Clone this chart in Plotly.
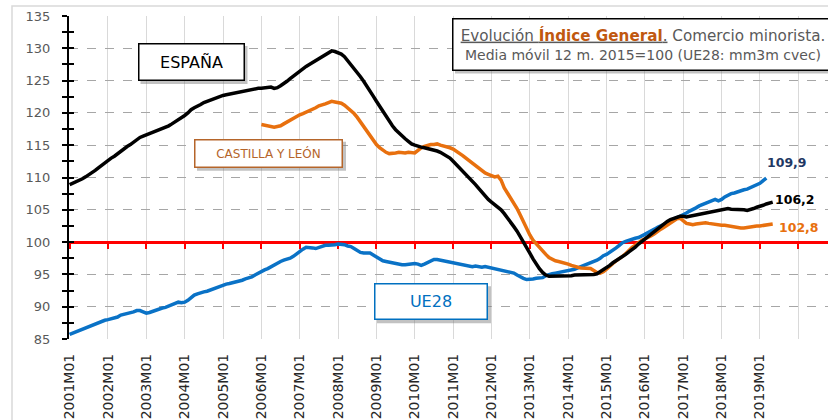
import plotly.graph_objects as go

# ---------------- data ----------------
year_labels = [f"{y}M01" for y in range(2001, 2020)]

espana = [
    108.9, 109.1, 109.4, 109.6, 109.8, 110.1, 110.4, 110.7, 111.1, 111.5, 111.9, 112.3,  # 2001
    112.6, 113.0, 113.3, 113.7, 114.0, 114.4, 114.8, 115.1, 115.5, 115.9, 116.2, 116.4,  # 2002
    116.6, 116.8, 116.9, 117.1, 117.3, 117.5, 117.8, 118.0, 118.3, 118.6, 118.9, 119.2,  # 2003
    119.6, 120.0, 120.5, 120.8, 121.0, 121.3, 121.6, 121.8, 122.0, 122.2, 122.4, 122.6,  # 2004
    122.7, 122.8, 122.9, 123.1, 123.2, 123.3, 123.4, 123.5, 123.6, 123.7, 123.7, 123.8,  # 2005
    123.8, 123.9, 123.9, 124.0, 123.8, 123.9, 124.2, 124.5, 124.9, 125.3, 125.7, 126.1,  # 2006
    126.4, 126.8, 127.2, 127.5, 127.8, 128.1, 128.4, 128.7, 129.0, 129.3, 129.6, 129.5,  # 2007
    129.3, 129.1, 128.7, 128.1, 127.6, 127.0, 126.3, 125.6, 124.9, 124.2, 123.4, 122.6,  # 2008
    121.8, 121.0, 120.2, 119.5, 118.7, 118.0, 117.4, 116.9, 116.4, 116.0, 115.6, 115.2,  # 2009
    115.0, 114.8, 114.7, 114.6, 114.5, 114.4, 114.3, 114.1, 113.9, 113.6, 113.3, 113.0,  # 2010
    112.5, 112.0, 111.4, 110.9, 110.4, 109.9, 109.4, 108.9, 108.3, 107.7, 107.1, 106.6,  # 2011
    106.2, 105.8, 105.4, 105.0, 104.4, 103.8, 103.1, 102.4, 101.7, 100.9, 100.0, 99.2,   # 2012
    98.3, 97.4, 96.6, 95.9, 95.3, 94.9, 94.7, 94.7, 94.7, 94.8, 94.8, 94.8,              # 2013
    94.8, 94.8, 94.9, 94.9, 94.9, 95.0, 95.0, 95.0, 95.0, 95.1, 95.4, 95.7,              # 2014
    96.0, 96.4, 96.8, 97.1, 97.4, 97.8, 98.1, 98.5, 98.8, 99.2, 99.7, 100.1,             # 2015
    100.5, 100.9, 101.3, 101.7, 102.1, 102.5, 102.9, 103.2, 103.5, 103.7, 103.9, 104.0,  # 2016
    104.0, 103.9, 104.0, 104.1, 104.3, 104.4, 104.4, 104.5, 104.6, 104.8, 104.9, 105.0,  # 2017
    105.1, 105.1, 105.2, 105.1, 105.1, 105.0, 105.1, 105.0, 104.9, 105.0, 105.2, 105.4,  # 2018
    105.5, 105.7, 105.9, 106.0, 106.2,                                                   # 2019
]

# Castilla y León starts in 2006M01 (month index 60)
cyl_start = 60
castilla = [
    118.2, 118.1, 118.0, 117.9, 117.8, 117.9, 118.0, 118.3, 118.6, 118.9, 119.2, 119.4,  # 2006
    119.7, 119.9, 120.1, 120.3, 120.5, 120.8, 121.1, 121.2, 121.4, 121.6, 121.8, 121.7,  # 2007
    121.6, 121.5, 121.2, 120.8, 120.4, 119.9, 119.3, 118.6, 117.9, 117.2, 116.4, 115.8,  # 2008
    115.1, 114.6, 114.2, 113.9, 113.7, 113.7, 113.8, 113.9, 113.8, 113.8, 113.9, 113.9,  # 2009
    113.8, 114.2, 114.6, 114.8, 115.0, 115.1, 115.1, 115.2, 115.0, 114.9, 114.8, 114.6,  # 2010
    114.4, 114.1, 113.8, 113.4, 113.0, 112.6, 112.2, 111.8, 111.5, 111.0, 110.7, 110.5,  # 2011
    110.3, 110.1, 110.2, 109.6, 108.4, 107.6, 106.9, 106.1, 105.2, 104.2, 103.1, 102.1,  # 2012
    101.1, 100.3, 99.7, 99.1, 98.6, 98.1, 97.6, 97.3, 97.1, 97.0, 96.9, 96.8,            # 2013
    96.6, 96.4, 96.2, 96.1, 96.0, 96.0, 96.0, 95.9, 95.6, 95.3, 95.2, 95.4,              # 2014
    95.8, 96.3, 96.7, 97.1, 97.4, 97.8, 98.2, 98.7, 99.2, 99.5, 99.9, 100.3,             # 2015
    100.5, 100.7, 101.0, 101.3, 101.7, 102.0, 102.3, 102.6, 102.9, 103.3, 103.6, 103.7,  # 2016
    103.3, 102.9, 102.8, 102.7, 102.8, 102.9, 102.9, 103.0, 102.9, 102.8, 102.8, 102.7,  # 2017
    102.6, 102.6, 102.5, 102.5, 102.4, 102.2, 102.2, 102.2, 102.3, 102.4, 102.4, 102.5,  # 2018
    102.5, 102.6, 102.6, 102.7, 102.8,                                                   # 2019
]

ue28 = [
    85.7, 85.9, 86.2, 86.4, 86.6, 86.8, 87.0, 87.2, 87.3, 87.5, 87.7, 87.9,    # 2001
    88.0, 88.1, 88.2, 88.4, 88.7, 88.8, 88.9, 89.0, 89.2, 89.4, 89.4, 89.2,    # 2002
    89.0, 89.1, 89.3, 89.5, 89.7, 89.8, 89.9, 90.1, 90.4, 90.6, 90.7, 90.6,    # 2003
    90.7, 91.0, 91.4, 91.8, 92.0, 92.2, 92.3, 92.4, 92.6, 92.8, 93.0, 93.2,    # 2004
    93.4, 93.5, 93.6, 93.7, 93.8, 93.9, 94.1, 94.3, 94.4, 94.6, 94.9, 95.2,    # 2005
    95.5, 95.7, 95.9, 96.2, 96.4, 96.7, 97.0, 97.2, 97.3, 97.5, 97.8, 98.2,    # 2006
    98.6, 98.9, 99.2, 99.2, 99.1, 99.0, 99.2, 99.4, 99.5, 99.5, 99.5, 99.6,    # 2007
    99.7, 99.7, 99.6, 99.4, 99.3, 99.0, 98.7, 98.4, 98.3, 98.3, 98.3, 98.0,    # 2008
    97.7, 97.4, 97.1, 97.0, 96.9, 96.8, 96.6, 96.5, 96.5, 96.5, 96.6, 96.6,    # 2009
    96.7, 96.6, 96.4, 96.6, 96.8, 97.0, 97.3, 97.3, 97.2, 97.1, 97.0, 96.9,    # 2010
    96.8, 96.7, 96.6, 96.5, 96.4, 96.3, 96.2, 96.3, 96.2, 96.1, 96.2, 96.1,    # 2011
    96.0, 95.9, 95.8, 95.7, 95.6, 95.5, 95.3, 95.2, 94.9, 94.6, 94.4, 94.2,    # 2012
    94.2, 94.3, 94.4, 94.4, 94.5, 94.8, 95.0, 95.1, 95.2, 95.3, 95.4, 95.5,    # 2013
    95.5, 95.7, 95.8, 96.0, 96.2, 96.4, 96.6, 96.8, 96.9, 97.2, 97.5, 97.9,    # 2014
    98.1, 98.4, 98.7, 99.1, 99.5, 99.9, 100.1, 100.3, 100.5, 100.6, 100.7, 100.9,  # 2015
    101.2, 101.5, 101.7, 102.0, 102.3, 102.5, 102.8, 103.0, 103.3, 103.6, 103.8, 104.0,  # 2016
    104.2, 104.5, 104.8, 105.0, 105.3, 105.6, 105.8, 106.0, 106.3, 106.5, 106.6, 106.4,  # 2017
    106.6, 107.0, 107.3, 107.5, 107.6, 107.8, 108.0, 108.1, 108.2, 108.4, 108.6, 108.9,  # 2018
    109.1, 109.5, 109.9,                                                        # 2019
]

last_labels = {"ue28": "109,9", "espana": "106,2", "castilla": "102,8"}

# ---------------- derived x positions (month index) ----------------
x_es = list(range(len(espana)))
x_cyl = list(range(cyl_start, cyl_start + len(castilla)))
x_ue = list(range(len(ue28)))
tick_pos = [12 * i for i in range(len(year_labels) + 1)]
tick_txt = year_labels + [""]

BLACK = "#000000"
ORANGE = "#E8700E"
BLUE = "#0A72C6"
FONT = "DejaVu Sans"

fig = go.Figure()

# invisible helper traces so overlay axes are drawn
fig.add_trace(go.Scatter(x=x_es, y=espana, xaxis="x2", yaxis="y", mode="lines",
                         line=dict(color="rgba(0,0,0,0)"), hoverinfo="skip", showlegend=False))
fig.add_trace(go.Scatter(x=x_es, y=espana, xaxis="x", yaxis="y2", mode="lines",
                         line=dict(color="rgba(0,0,0,0)"), hoverinfo="skip", showlegend=False))

fig.add_trace(go.Scatter(x=x_ue, y=ue28, mode="lines", name="UE28",
                         line=dict(color=BLUE, width=3.5), showlegend=False))
fig.add_trace(go.Scatter(x=x_cyl, y=castilla, mode="lines", name="CASTILLA Y LEÓN",
                         line=dict(color=ORANGE, width=3.5), showlegend=False))
fig.add_trace(go.Scatter(x=x_es, y=espana, mode="lines", name="ESPAÑA",
                         line=dict(color=BLACK, width=3.5), showlegend=False))

xr = [-0.2, 237.3]
fig.update_layout(
    width=828, height=420,
    margin=dict(l=69, r=0, t=16, b=81, autoexpand=False),
    paper_bgcolor="white", plot_bgcolor="white",
    font=dict(family=FONT),
    xaxis=dict(range=xr, tickvals=tick_pos, ticktext=tick_txt, tickangle=-90, automargin=False,
               showgrid=True, gridcolor="#D9D9D9", gridwidth=1, zeroline=False,
               showline=False, ticks="", ticklabelstandoff=11,
               tickfont=dict(family=FONT, size=14, color="#262626")),
    xaxis2=dict(range=xr, overlaying="x", anchor="free", position=0.3, side="bottom",
                automargin=False,
                tickvals=tick_pos, showticklabels=False, showgrid=False, zeroline=False,
                showline=True, linecolor="#FF0000", linewidth=2.5, layer="below traces",
                ticks="outside", ticklen=5, tickwidth=2, tickcolor="#FF0000"),
    yaxis=dict(range=[85, 135], tick0=85, dtick=5, showgrid=True, gridcolor="#A6A6A6",
               griddash="dash", gridwidth=1, zeroline=False, showline=True, automargin=False,
               linecolor="black", linewidth=2, ticks="outside", ticklen=5, tickwidth=1.5,
               tickcolor="black", ticklabelstandoff=9,
               minor=dict(dtick=2.5, ticks="outside", ticklen=5, tickwidth=1.5,
                          tickcolor="black", showgrid=False),
               tickfont=dict(family=FONT, size=13, color="#595959")),
    yaxis2=dict(range=[85, 135], overlaying="y", anchor="x", side="left", tick0=85,
                automargin=False,
                dtick=2.5, ticks="inside", ticklen=5, tickwidth=1.5, tickcolor="black",
                showticklabels=False, showgrid=False, zeroline=False, showline=False),
)

PW, PH, L, T = 759.0, 323.0, 69.0, 16.0


def px2paper(px, py):
    return (px - L) / PW, (T + PH - py) / PH


shapes = []
# outer frame
fx0, fy0 = px2paper(12, 6)
fx1, fy1 = px2paper(840, 430)
shapes.append(dict(type="rect", xref="paper", yref="paper", x0=fx0, y0=fy1, x1=fx1, y1=fy0,
                   line=dict(color="#D9D9D9", width=1.5), layer="below"))


def box(cx, cy, w, h, text, color, border, size):
    # shadow
    sx0, sy0 = px2paper(cx - w / 2 + 3, cy - h / 2 + 3)
    sx1, sy1 = px2paper(cx + w / 2 + 3, cy + h / 2 + 3)
    shapes.append(dict(type="rect", xref="paper", yref="paper", x0=sx0, x1=sx1, y0=sy1, y1=sy0,
                       line=dict(width=0), fillcolor="rgba(120,120,120,0.45)", layer="above"))
    ax, ay = px2paper(cx, cy)
    fig.add_annotation(xref="paper", yref="paper", x=ax, y=ay, xanchor="center", yanchor="middle",
                       text=text, showarrow=False, width=w - 3, height=h - 3, borderpad=0,
                       bgcolor="white", bordercolor=border, borderwidth=1.5,
                       font=dict(family=FONT, size=size, color=color), align="center", valign="middle")


box(191, 62, 107, 38, "ESPAÑA", "#000000", "#000000", 16)
box(268.5, 153.2, 149, 29, "CASTILLA Y LEÓN", "#B5652A", "#B5652A", 12)
box(431, 301.7, 114, 37, "UE28", "#0070C0", "#0070C0", 16)

title_text = ("<u><span style='color:#595959'>Evolución </span>"
              "<b><span style='color:#C0580F'>Índice General</span></b>"
              "<span style='color:#595959'>.</span></u>"
              "<span style='color:#595959'> Comercio minorista.</span><br>"
              "<span style='color:#595959;font-size:14px'>Media móvil 12 m. 2015=100 (UE28: mm3m cvec)</span>")
box(643, 44, 382, 53, title_text, "#595959", "#000000", 15.2)

fig.update_layout(shapes=shapes)

# end-value labels
for (px, py, key, col) in [(786.5, 162.7, "ue28", "#1F3864"),
                           (794.5, 199, "espana", "#000000"),
                           (799, 227, "castilla", ORANGE)]:
    ax, ay = px2paper(px, py)
    fig.add_annotation(xref="paper", yref="paper", x=ax, y=ay, xanchor="center", yanchor="middle",
                       text=f"<b>{last_labels[key]}</b>", showarrow=False,
                       font=dict(family=FONT, size=12.5, color=col))

fig.write_html("out.html", config={"displayModeBar": False},
               post_script="document.body.style.margin='0px';")
